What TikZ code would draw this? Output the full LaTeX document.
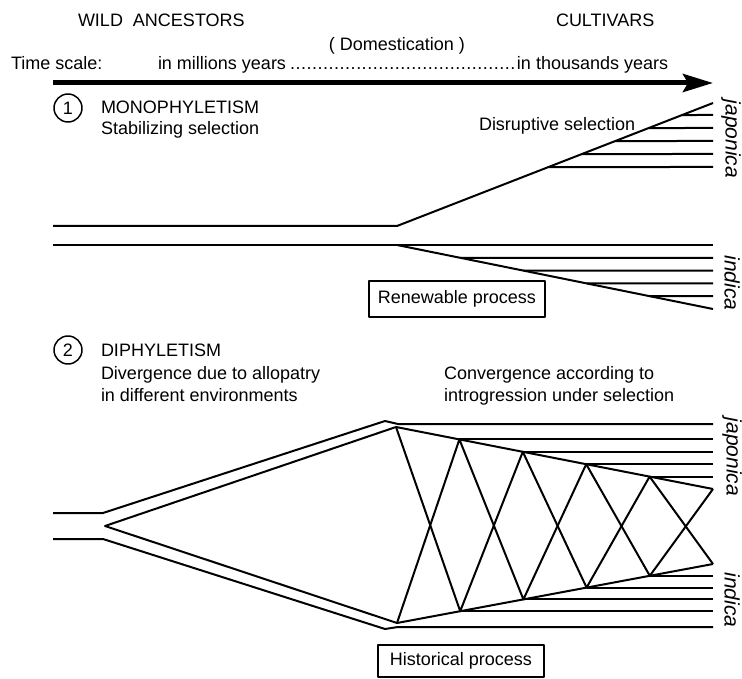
\documentclass[tikz,border=0pt]{standalone}
\usepackage{fontspec}
\setmainfont{Liberation Sans}
\usetikzlibrary{
  arrows.meta,
  calc
}
\newcommand\dotrow{\leaders\hbox to 5.5pt{\hss.\hss}\hfill}

\begin{document}
\begin{tikzpicture}[
  x=1pt, y=-1pt,
  font=\fontsize{18}{21}\selectfont,
  line width=2pt, line join=round,
  lbl/.style={anchor=base west, inner sep=0pt},
  tag/.style={font=\fontsize{21}{24}\selectfont\itshape, rotate=-90, inner sep=0pt},
  procbox/.style={draw, line width=1.5pt, inner sep=0pt, minimum height=#1},
  num/.style={draw, circle, line width=1.5pt, minimum size=28pt, inner sep=0pt},
  timearrow/.style={-{Stealth[length=30pt, width=18pt, inset=5pt]}, line width=5pt},
]
  \useasboundingbox (0,0) rectangle (742,679);

  % headings and time scale
  \node[lbl] (wild) at (77,27) {WILD\ \ ANCESTORS};
  \node[lbl] (cult) at (555,27) {CULTIVARS};
  \node[anchor=base, inner sep=0pt] (dom) at (397,51) {( Domestication )};
  \node[lbl] (scale) at (10,70) {Time scale:};
  \node[lbl] (span) at (157,70) {\makebox[510pt]{in millions years\dotrow in thousands years}};
  \coordinate (t0) at (53,83);
  \coordinate (t1) at (713,83);
  \draw[timearrow] (t0) -- (t1);

  % 1 - monophyletism
  \node[num] (n1) at (68,108) {1};
  \node[lbl] (mono) at (100,114) {MONOPHYLETISM};
  \node[lbl] (stab) at (100,135) {Stabilizing selection};
  \node[lbl] (disr) at (478,131) {Disruptive selection};

  \coordinate (ja0) at (397,226);
  \coordinate (ja1) at (713,103);
  \coordinate (in0) at (397,245);
  \coordinate (in1) at (713,309);
  \draw (53,226) -- (ja0) -- (ja1);
  \draw (53,245) -- (in0 -| in1);
  \draw (in0) -- (in1);
  \foreach \y in {115,128,141,154,167}
    \draw (intersection cs: first line={(ja0)--(ja1)}, second line={(0,\y)--(1,\y)}) -- (713,\y);
  \foreach \y in {257.8,270.6,283.4,296.2}
    \draw (intersection cs: first line={(in0)--(in1)}, second line={(0,\y)--(1,\y)}) -- (713,\y);

  \node[tag] (jap1) at (731,139) {japonica};
  \node[tag] (ind1) at (732,283) {indica};
  \node[procbox=36pt, minimum width=176pt] (renew) at (457,299) {Renewable process};

  % 2 - diphyletism
  \node[num] (n2) at (68,350) {2};
  \node[lbl] (diph) at (100,356) {DIPHYLETISM};
  \node[lbl] (div1) at (100,379) {Divergence due to allopatry};
  \node[lbl] (div2) at (100,401) {in different environments};
  \node[lbl] (conv1) at (443,379) {Convergence according to};
  \node[lbl] (conv2) at (443,401) {introgression under selection};

  \coordinate (tip) at (105,526);
  \foreach \k in {0,...,5} {
    \coordinate (u\k) at ({396+63.4*\k},{427+12.4*\k});
    \coordinate (l\k) at ({397+63.2*\k},{623-11.8*\k});
  }
  \draw (53,513) -- (103,513) -- (385,421) -- (398,424) -- (u5 |- 0,424);
  \draw (53,539) -- (103,539) -- (385,629) -- (398,627) -- (l5 |- 0,627);
  \draw (u0) -- (tip) -- (l0);

  % convergence net
  \draw (u0) -- (u1) -- (u2) -- (u3) -- (u4) -- (u5);
  \draw (l0) -- (l1) -- (l2) -- (l3) -- (l4) -- (l5);
  \draw (u0) -- (l1) -- (u2) -- (l3) -- (u4) -- (l5);
  \draw (l0) -- (u1) -- (l2) -- (u3) -- (l4) -- (u5);
  \foreach \k in {1,...,4} {
    \draw (u\k) -- (u\k -| u5);
    \draw (l\k) -- (l\k -| l5);
  }

  \node[tag] (jap2) at (732,457) {japonica};
  \node[tag] (ind2) at (732,600) {indica};
  \node[procbox=32pt, minimum width=166pt] (hist) at (461,661) {Historical process};
\end{tikzpicture}
\end{document}
